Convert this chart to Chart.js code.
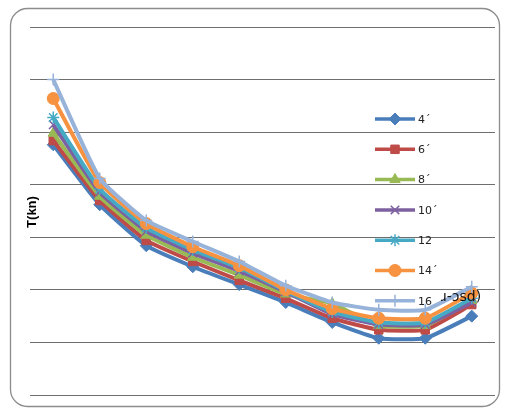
<!DOCTYPE html>
<html>
<head>
<meta charset="utf-8">
<script src="https://cdn.jsdelivr.net/npm/chart.js@4/dist/chart.umd.min.js"></script>
<style>
html,body{margin:0;padding:0;background:#fff;}
#wrap{width:506px;height:410px;}
</style>
</head>
<body>
<div id="wrap"><canvas id="c" width="506" height="410"></canvas></div>
<script>
// categories (x positions, no labels shown)
const categories=["1","2","3","4","5","6","7","8","9","10"];
const seriesNames=["4ˊ","6ˊ","8ˊ","10ˊ","12","14ˊ","16"];
const s4 =[238,181,142,122,105,88,69,54,54,75];
const s6 =[242,185,147,127,109,92,73,62,62,86];
const s8 =[249,189,152,131,114,96,87,66,66,90];
const s10=[257,193,156,135,118,98,77,67,67,88];
const s12=[264,196,159,138,121,99,79,69,69,92];
const s14=[282,202,163,141,123,100,82,73,73,97];
const s16=[300,206,166,146,127,104,88,81,81,103];
const yTicks=[0,50,100,150,200,250,300,350];

const colors=["#4a7ebb","#be4b48","#98b954","#7d60a0","#46aac5","#f69240","#98b3d9"];
const shapes=["rectRot","rect","triangle","crossRot","star","circle","cross"];
const values=[s4,s6,s8,s10,s12,s14,s16];

let datasets=values.map((v,i)=>({
    label:seriesNames[i],
    data:v,
    borderColor:colors[i],
    backgroundColor:colors[i],
    borderWidth:4,
    pointStyle:shapes[i],
    pointRadius:6,
    pointBorderWidth:shapes[i]=="crossRot"||shapes[i]=="star"||shapes[i]=="cross"?1.5:1,
    tension:0.15,
    order:6-i
}));

const framePlugin={
    id:"frame",
    beforeDraw(chart){
        const c=chart.ctx;
        c.save();
        c.fillStyle="#fff";
        c.fillRect(0,0,chart.width,chart.height);
        c.strokeStyle="#8c8c8c";
        c.lineWidth=1.3;
        c.beginPath();
        c.roundRect(10.5,8.5,489,398,17);
        c.stroke();
        c.restore();
    },
    afterDraw(chart){
        const c=chart.ctx;
        c.save();
        // y title
        c.translate(32,212);
        c.rotate(-Math.PI/2);
        c.font="bold 13px 'Liberation Sans', Arial, sans-serif";
        c.fillStyle="#000";
        c.textAlign="center";
        c.textBaseline="middle";
        c.fillText("T(kn)",0,0);
        c.restore();

        // legend
        c.save();
        chart.data.datasets.forEach((ds,i)=>{
            let y=119+i*30.3;
            c.strokeStyle=ds.borderColor;
            c.lineWidth=3.5;
            c.beginPath();
            c.moveTo(375,y);
            c.lineTo(415,y);
            c.stroke();
            c.fillStyle=ds.backgroundColor;
            c.strokeStyle=ds.borderColor;
            c.lineWidth=ds.pointBorderWidth;
            Chart.helpers.drawPoint(c,{pointStyle:ds.pointStyle,radius:6,rotation:0,borderWidth:ds.pointBorderWidth},395,y);
            c.fillStyle="#222";
            c.font="11px 'DejaVu Sans', sans-serif";
            c.textBaseline="middle";
            c.fillText(ds.label,418,y+1);
        });
        c.font="14px 'DejaVu Sans', sans-serif";
        c.fillStyle="#111";
        c.textBaseline="middle";
        c.fillText("ɹ-ɔsd)",441,297);
        c.restore();
    }
};

new Chart(document.getElementById("c"),{
    type:"line",
    data:{labels:categories,datasets:datasets},
    options:{
        responsive:false,
        animation:false,
        layout:{padding:{left:30,right:11,top:27,bottom:15}},
        plugins:{legend:{display:false},tooltip:{enabled:false}},
        scales:{
            x:{
                offset:true,
                ticks:{display:false},
                grid:{display:false,drawTicks:false},
                border:{display:false}
            },
            y:{
                min:0,max:350,
                afterBuildTicks:(s)=>{s.ticks=yTicks.map(v=>({value:v}));},
                ticks:{display:false},
                grid:{color:"#6e6e6e",lineWidth:1,drawTicks:false},
                border:{display:false}
            }
        }
    },
    plugins:[framePlugin]
});
</script>
</body>
</html>
